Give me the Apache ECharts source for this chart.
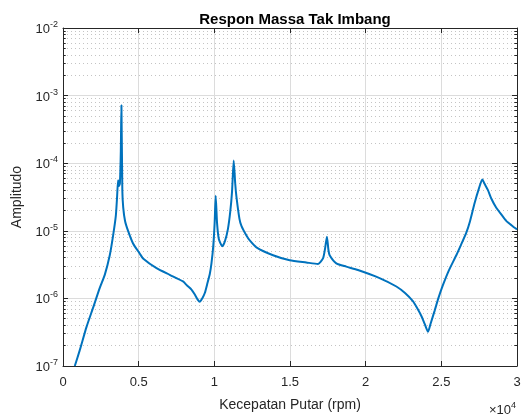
<!DOCTYPE html>
<html>
<head>
<meta charset="utf-8">
<script src="https://cdn.jsdelivr.net/npm/echarts@6/dist/echarts.min.js"></script>
<style>
  html, body { margin: 0; padding: 0; background: #fff; }
  #chart { width: 526px; height: 417px; }
</style>
</head>
<body>
<div id="chart"></div>
<script>
// Rotor speed (rpm) and unbalance response amplitude
const speedRpm = [
  780, 1110, 1550, 1990, 2430, 2760, 3090, 3310, 3490, 3575,
  3640, 3700, 3760, 3820, 3860, 3920, 3980, 4100, 4300, 4630,
  5070, 5290, 6180, 7050, 7930, 8200, 8490, 8700, 8900, 9040,
  9200, 9370, 9550, 9700, 9810, 9930, 10020, 10090, 10180, 10300,
  10530, 10700, 10900, 11050, 11170, 11280, 11380, 11460, 11660, 11790,
  12120, 12340, 12780, 13880, 14980, 16080, 16850, 17180, 17320, 17440,
  17540, 17620, 18060, 18720, 19490, 20920, 22030, 22600, 23120, 23400,
  23680, 23900, 24120, 24300, 24560, 24800, 25110, 25500, 25990, 26300,
  26650, 26900, 27200, 27450, 27710, 27850, 28080, 28300, 28630, 29000,
  29290, 29650, 30000
];
const amplitude = [
  1.0e-7, 1.72e-7, 3.76e-7, 7.3e-7, 1.43e-6, 2.23e-6, 4.35e-6, 8.5e-6, 1.66e-5, 3.2e-5,
  5.6e-5, 4.6e-5, 5.0e-5, 1.5e-4, 7.2e-4, 4.0e-5, 2.2e-5, 1.4e-5, 1.0e-5, 6.5e-6,
  4.6e-6, 3.9e-6, 2.8e-6, 2.23e-6, 1.78e-6, 1.55e-6, 1.35e-6, 1.15e-6, 9.6e-7, 8.9e-7,
  1.0e-6, 1.2e-6, 1.7e-6, 2.3e-6, 3.3e-6, 6.0e-6, 1.3e-5, 3.3e-5, 1.3e-5, 7.5e-6,
  5.9e-6, 7.0e-6, 1.07e-5, 1.9e-5, 3.8e-5, 1.1e-4, 5.0e-5, 3.2e-5, 1.5e-5, 1.18e-5,
  8.5e-6, 7.2e-6, 5.7e-6, 4.35e-6, 3.67e-6, 3.4e-6, 3.23e-6, 3.9e-6, 5.5e-6, 8.2e-6,
  5.2e-6, 4.35e-6, 3.3e-6, 2.95e-6, 2.63e-6, 2.0e-6, 1.5e-6, 1.2e-6, 9.1e-7, 7.2e-7,
  5.5e-7, 4.2e-7, 3.2e-7, 4.3e-7, 6.6e-7, 1.0e-6, 1.58e-6, 2.6e-6, 4.35e-6, 6.2e-6,
  9.4e-6, 1.4e-5, 2.57e-5, 4.0e-5, 5.75e-5, 5.0e-5, 4.0e-5, 3.0e-5, 2.19e-5, 1.7e-5,
  1.4e-5, 1.2e-5, 1.05e-5
];

// Axis ranges and ticks
const xMin = 0, xMax = 30000, xStep = 5000, xScale = 1e4;
const yMin = 1e-7, yMax = 1e-2;
const decadeExponents = [-7, -6, -5, -4, -3];
const minorMultipliers = [2, 3, 4, 5, 6, 7, 8, 9];

const axisColor = '#262626';
const fontFamily = 'Liberation Sans, Arial, Helvetica, sans-serif';

const minorValues = [];
decadeExponents.forEach(e => minorMultipliers.forEach(m => minorValues.push(m * Math.pow(10, e))));

// dotted minor grid rows spanning the plot
const minorGrid = minorValues.map(v => [{ coord: [xMin, v] }, { coord: [xMax, v] }]);
// short inward minor ticks on the left and right frame
const tickLen = 180;
const minorTicks = [];
minorValues.forEach(v => {
  minorTicks.push([{ coord: [xMin, v] }, { coord: [xMin + tickLen, v] }]);
  minorTicks.push([{ coord: [xMax - tickLen, v] }, { coord: [xMax, v] }]);
});
// invisible anchor points so the helper series share the axes
const anchor = [[xMin, yMin], [xMax, yMax]];

const supRich = {
  b: { fontSize: 13, color: axisColor, fontFamily, verticalAlign: 'bottom', lineHeight: 16 },
  s: { fontSize: 9, color: axisColor, fontFamily, verticalAlign: 'top', lineHeight: 16 }
};

const chart = echarts.init(document.getElementById('chart'), null, { renderer: 'canvas' });
chart.setOption({
  animation: false,
  backgroundColor: '#ffffff',
  title: {
    text: 'Respon Massa Tak Imbang',
    left: 290, top: 7, textAlign: 'center',
    textStyle: { fontSize: 15, fontWeight: 'bold', color: '#000', fontFamily }
  },
  grid: { left: 63, right: 9, top: 28, bottom: 44, containLabel: false },
  xAxis: [
    {
      type: 'value', min: xMin, max: xMax, interval: xStep, position: 'bottom',
      name: 'Kecepatan Putar (rpm)', nameLocation: 'middle', nameGap: 32,
      nameTextStyle: { fontSize: 14, color: axisColor, fontFamily },
      axisLine: { show: true, onZero: false, lineStyle: { color: axisColor, width: 1 } },
      axisTick: { show: true, inside: true, length: 5, lineStyle: { color: axisColor } },
      axisLabel: {
        fontSize: 13, color: axisColor, fontFamily, margin: 10,
        formatter: v => String(v / xScale)
      },
      splitLine: { show: true, lineStyle: { color: '#dcdcdc', width: 1 } }
    },
    {
      type: 'value', min: xMin, max: xMax, interval: xStep, position: 'top',
      axisLine: { show: true, onZero: false, lineStyle: { color: axisColor, width: 1 } },
      axisTick: { show: true, inside: true, length: 5, lineStyle: { color: axisColor } },
      axisLabel: { show: false },
      splitLine: { show: false }
    }
  ],
  yAxis: [
    {
      type: 'log', logBase: 10, min: yMin, max: yMax, position: 'left',
      name: 'Amplitudo', nameLocation: 'middle', nameGap: 31, nameRotate: 90,
      nameTextStyle: { fontSize: 14, color: axisColor, fontFamily },
      axisLine: { show: true, onZero: false, lineStyle: { color: axisColor, width: 1 } },
      axisTick: { show: true, inside: true, length: 5, lineStyle: { color: axisColor } },
      axisLabel: {
        margin: 5,
        formatter: v => '{b|10}{s|' + Math.round(Math.log10(v)) + '}',
        rich: supRich
      },
      splitLine: { show: true, lineStyle: { color: '#dcdcdc', width: 1 } }
    },
    {
      type: 'log', logBase: 10, min: yMin, max: yMax, position: 'right',
      axisLine: { show: true, onZero: false, lineStyle: { color: axisColor, width: 1 } },
      axisTick: { show: true, inside: true, length: 5, lineStyle: { color: axisColor } },
      axisLabel: { show: false },
      splitLine: { show: false }
    }
  ],
  graphic: [
    {
      type: 'text', right: 10, bottom: 0,
      style: {
        text: '{b|×10}{s|4}',
        rich: {
          b: { fontSize: 13, fill: axisColor, fontFamily, verticalAlign: 'bottom', lineHeight: 16 },
          s: { fontSize: 9, fill: axisColor, fontFamily, verticalAlign: 'top', lineHeight: 16 }
        }
      }
    }
  ],
  series: [
    {
      name: 'minor-grid', type: 'line', data: anchor, z: 1, silent: true,
      showSymbol: false, lineStyle: { opacity: 0 }, itemStyle: { opacity: 0 },
      markLine: {
        silent: true, symbol: ['none', 'none'], label: { show: false },
        lineStyle: { color: '#c4c4c4', width: 1, type: [1, 3] },
        emphasis: { disabled: true },
        data: minorGrid
      }
    },
    {
      name: 'minor-ticks', type: 'line', data: anchor, z: 2, silent: true,
      showSymbol: false, lineStyle: { opacity: 0 }, itemStyle: { opacity: 0 },
      markLine: {
        silent: true, symbol: ['none', 'none'], label: { show: false },
        lineStyle: { color: axisColor, width: 1, type: 'solid' },
        emphasis: { disabled: true },
        data: minorTicks
      }
    },
    {
      name: 'Respon', type: 'line', z: 5,
      data: speedRpm.map((x, i) => [x, amplitude[i]]),
      showSymbol: false, smooth: 0.2, clip: true,
      lineStyle: { color: '#0072BD', width: 2 },
      itemStyle: { color: '#0072BD' }
    }
  ]
});
</script>
</body>
</html>
